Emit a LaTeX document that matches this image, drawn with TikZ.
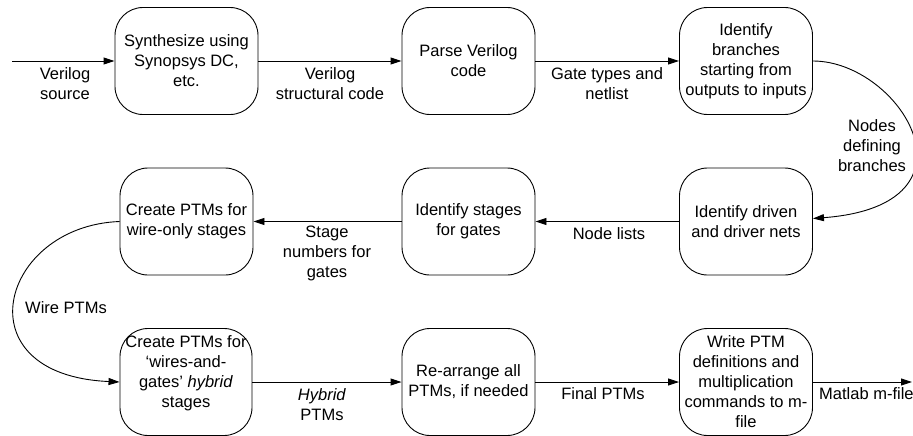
\documentclass[tikz,border=0pt]{standalone}
\usepackage{fontspec}
\setmainfont{Liberation Sans}
\usetikzlibrary{arrows.meta}
\begin{document}
\begin{tikzpicture}[x=1pt,y=-1pt,
  every node/.style={font=\fontsize{16.5}{20}\selectfont, align=center, inner sep=0pt},
  stepbox/.style={draw, line width=0.9pt, rounded corners=28pt,
    minimum width=133pt, minimum height=107pt},
  lbl/.style={},
  arr/.style={line width=0.9pt, -{Triangle[length=11pt,width=7pt]}}]
\useasboundingbox (0,0) rectangle (913,436);

% process steps
\node[stepbox, minimum width=143pt] (b1) at (186.5,61) {Synthesize using\\Synopsys DC,\\etc.};
\node[stepbox] (b2) at (468.5,61) {Parse Verilog\\code};
\node[stepbox] (b3) at (746,61) {Identify\\branches\\starting from\\outputs to inputs};
\node[stepbox] (b4) at (186.5,221.5) {Create PTMs for\\wire-only stages};
\node[stepbox] (b5) at (468.5,221.5) {Identify stages\\for gates};
\node[stepbox] (b6) at (746,221.5) {Identify driven\\and driver nets};
\node[stepbox, minimum width=132pt] (b7) at (186,382) {Create PTMs for\\‘wires-and-\\gates’ \textit{hybrid}\\stages\\\mbox{}};
\node[stepbox] (b8) at (468.5,382) {Re-arrange all\\PTMs, if needed};
\node[stepbox] (b9) at (746,382) {Write PTM\\definitions and\\multiplication\\commands to m-\\file};

% free ends of the input and output arrows
\coordinate (in) at (12,61);
\coordinate (out) at (912,382);

% connectors
\draw[arr] (in) -- (b1);
\draw[arr] (b1) -- (b2);
\draw[arr] (b2) -- (b3);
\draw[arr] (b3.east) .. controls (900,61) and (990,205) .. ([yshift=3pt]b6.east);
\draw[arr] (b6) -- (b5);
\draw[arr] (b5) -- (b4);
\draw[arr] (b4.west) .. controls (0,226) and (-40,375) .. (b7.west);
\draw[arr] (b7) -- (b8);
\draw[arr] (b8) -- (b9);
\draw[arr] (b9) -- (out);

% connector labels
\node[lbl] (l1) at (65,84) {Verilog\\source};
\node[lbl] (l2) at (330,84) {Verilog\\structural code};
\node[lbl] (l3) at (607,84) {Gate types and\\netlist};
\node[lbl] (l4) at (872,146) {Nodes\\defining\\branches};
\node[lbl] (l5) at (609,234) {Node lists};
\node[lbl] (l6) at (327,253) {Stage\\numbers for\\gates};
\node[lbl] (l7) at (66,308) {Wire PTMs};
\node[lbl] (l8) at (322,405) {\textit{Hybrid}\\PTMs};
\node[lbl] (l9) at (603,394) {Final PTMs};
\node[lbl, anchor=west] (l10) at (819,394) {Matlab m-file};
\end{tikzpicture}
\end{document}
